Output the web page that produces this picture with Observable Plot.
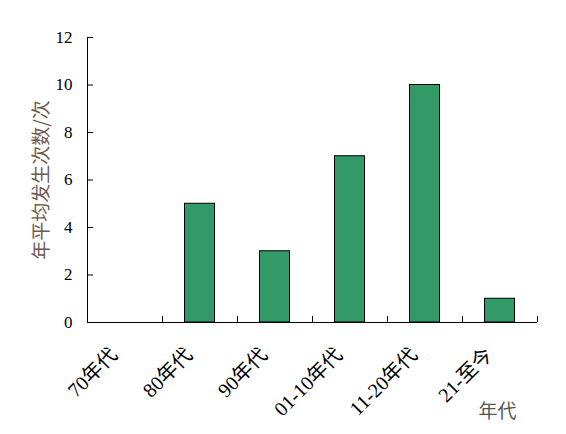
<!DOCTYPE html>
<html>
<head>
<meta charset="utf-8">
<script src="https://cdn.jsdelivr.net/npm/d3@7"></script>
<script src="https://cdn.jsdelivr.net/npm/@observablehq/plot@0.6"></script>
<style>
  html, body { margin: 0; padding: 0; background: #fff; }
  #chart svg { display: block; }
</style>
</head>
<body>
<div id="chart"></div>
<script>
const categories = ["70年代", "80年代", "90年代", "01-10年代", "11-20年代", "21-至今"];
const values = [0, 5, 3, 7, 10, 1];
const yTicks = [0, 2, 4, 6, 8, 10, 12];
const yLabel = "年平均发生次数/次";
const xLabel = "年代";

const data = categories.map((c, i) => ({category: c, value: values[i]}));

const W = 566, H = 434;
const mL = 87, mR = 29, mT = 37, mB = 112;
const plotW = W - mL - mR, plotH = H - mT - mB;
const bw = plotW / categories.length;
const barW = 30;
const inset = (bw - barW) / 2;

const serif = "'Liberation Serif', 'Noto Sans CJK SC', serif";
const cjk = "'Noto Sans CJK SC', sans-serif";

const chart = Plot.plot({
  width: W,
  height: H,
  marginLeft: mL,
  marginRight: mR,
  marginTop: mT,
  marginBottom: mB,
  style: {fontFamily: serif, color: "#000", background: "#fff"},
  x: {type: "band", domain: categories, padding: 0, axis: null},
  y: {domain: [0, 12], axis: null},
  marks: [
    Plot.barY(data.filter(d => d.value > 0), {
      x: "category", y: "value",
      fill: "#339966", stroke: "#000", strokeWidth: 1,
      insetLeft: inset, insetRight: inset
    }),
    // axis lines
    Plot.ruleX(categories.slice(0, 1), {x: d => d, dx: -bw / 2, stroke: "#000"}),
    Plot.ruleY([0], {stroke: "#000"}),
    // y tick marks (inward)
    Plot.ruleY(yTicks, {y: d => d, stroke: "#000", insetRight: plotW - 6}),
    // x tick marks at band boundaries (inward)
    Plot.ruleX(categories, {x: d => d, dx: bw / 2, stroke: "#000", insetTop: plotH - 6}),
    // y tick labels
    Plot.text(yTicks, {
      y: d => d, text: d => String(d), frameAnchor: "left",
      dx: -15, textAnchor: "end", fontSize: 17, fill: "#000", fontFamily: serif
    }),
    // x tick labels
    Plot.text(categories, {
      x: d => d, text: d => d, frameAnchor: "bottom",
      dx: -11, dy: 29, rotate: -45, textAnchor: "end", lineAnchor: "middle",
      fontSize: 20, fill: "#000", fontFamily: serif
    }),
    // y axis title
    Plot.text([yLabel], {
      frameAnchor: "left", text: d => d, rotate: -90, dx: -46,
      textAnchor: "middle", lineAnchor: "middle",
      fontSize: 19, fill: "#6e5a52", fontFamily: cjk
    }),
    // x axis title
    Plot.text([xLabel], {
      frameAnchor: "bottom-right", text: d => d, dx: -40, dy: 89,
      textAnchor: "middle", lineAnchor: "middle",
      fontSize: 19, fill: "#555", fontFamily: cjk
    })
  ]
});

document.getElementById("chart").appendChild(chart);
</script>
</body>
</html>
